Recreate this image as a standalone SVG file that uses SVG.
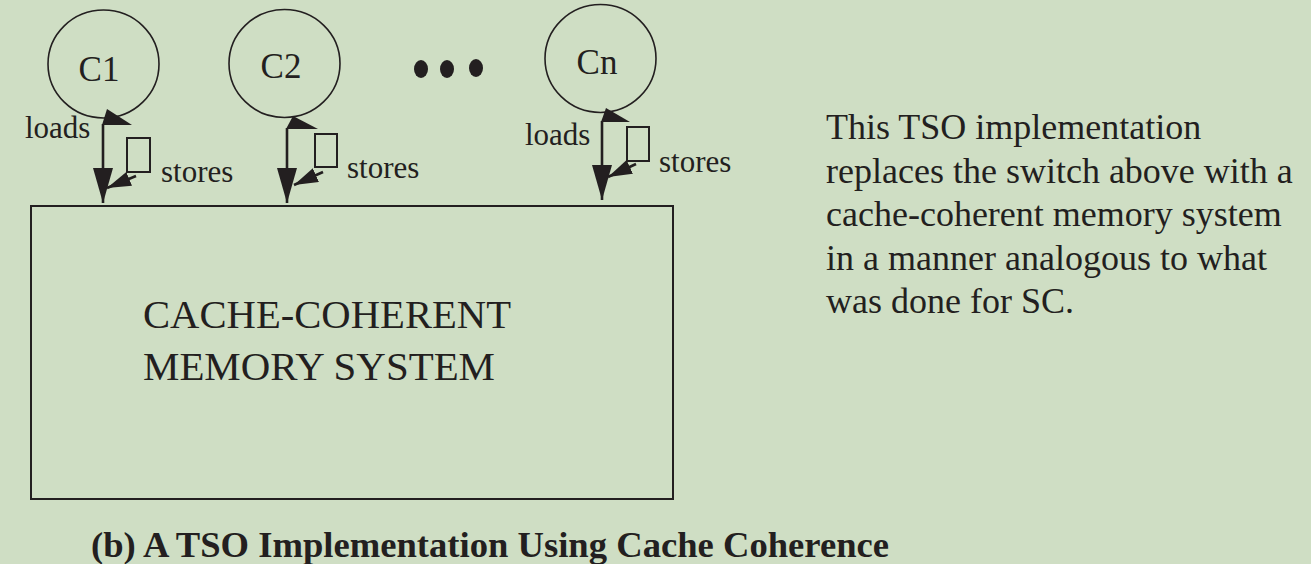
<svg xmlns="http://www.w3.org/2000/svg" width="1311" height="564" viewBox="0 0 1311 564">
<defs>
<style>
.bg{fill:#cfdec4}
.core{fill:none;stroke:#231f20;stroke-width:1.6}
.t{font-family:"Liberation Serif","Times New Roman",serif;fill:#231f20}
.ln{stroke:#231f20;stroke-width:2.6;fill:none}
.hd{fill:#231f20}
.buf{fill:none;stroke:#231f20;stroke-width:2}
.mem{fill:none;stroke:#231f20;stroke-width:2}
</style>
<marker id="bigHead" markerUnits="userSpaceOnUse" markerWidth="36" markerHeight="22" refX="35" refY="10" orient="auto" viewBox="0 0 36 22">
<path d="M0,0 L35,10 L0,20 Z" class="hd"/>
</marker>
<marker id="smallHead" markerUnits="userSpaceOnUse" markerWidth="26" markerHeight="16" refX="24" refY="7.5" orient="auto" viewBox="0 0 26 16">
<path d="M0,0 L24,7.5 L0,15 Z" class="hd"/>
</marker>
</defs>
<rect class="bg" x="0" y="0" width="1311" height="564"/>

<g id="core-c1">
<ellipse class="core" cx="103.5" cy="64" rx="55.5" ry="54"/>
<text class="t" x="99" y="81" font-size="35" text-anchor="middle">C1</text>
<rect class="buf" x="127" y="138" width="23" height="34"/>
</g>
<g id="core-c2">
<ellipse class="core" cx="284.5" cy="63.5" rx="55.5" ry="54"/>
<text class="t" x="281" y="78" font-size="35" text-anchor="middle">C2</text>
<rect class="buf" x="315" y="134" width="22" height="33"/>
</g>
<g id="ellipsis">
<ellipse class="hd" cx="421" cy="69" rx="7" ry="9"/>
<ellipse class="hd" cx="447" cy="69" rx="7" ry="9"/>
<ellipse class="hd" cx="476" cy="68" rx="7" ry="9"/>
</g>
<g id="core-cn">
<ellipse class="core" cx="600.5" cy="58.5" rx="55.5" ry="54"/>
<text class="t" x="597" y="74" font-size="35" text-anchor="middle">Cn</text>
<rect class="buf" x="627" y="127" width="22" height="34"/>
</g>

<g id="memory">
<rect class="mem" x="31" y="206" width="642" height="293"/>
<text class="t" x="143" y="328" font-size="40" textLength="368" lengthAdjust="spacingAndGlyphs">CACHE-COHERENT</text>
<text class="t" x="143" y="380" font-size="40" textLength="352" lengthAdjust="spacingAndGlyphs">MEMORY SYSTEM</text>
</g>

<g id="connectors">
<polygon class="hd" points="107,109 102,125 132,125"/>
<line class="ln" x1="103" y1="124" x2="103" y2="203" marker-end="url(#bigHead)"/>
<line class="ln" x1="136" y1="176" x2="107" y2="188" marker-end="url(#smallHead)"/>
<text class="t" x="25" y="138" font-size="31">loads</text>
<text class="t" x="161" y="182" font-size="31">stores</text>

<polygon class="hd" points="293,116 286,129 318,129"/>
<line class="ln" x1="287" y1="128" x2="287" y2="203" marker-end="url(#bigHead)"/>
<line class="ln" x1="323" y1="172" x2="294" y2="185" marker-end="url(#smallHead)"/>
<text class="t" x="347" y="178" font-size="31">stores</text>

<polygon class="hd" points="606,108 601,122 630,122"/>
<line class="ln" x1="602" y1="121" x2="602" y2="200" marker-end="url(#bigHead)"/>
<line class="ln" x1="636" y1="164" x2="608" y2="177" marker-end="url(#smallHead)"/>
<text class="t" x="525" y="145" font-size="31">loads</text>
<text class="t" x="659" y="172" font-size="31">stores</text>
</g>

<g id="description">
<text class="t" x="826" y="139" font-size="36">This TSO implementation</text>
<text class="t" x="826" y="182.5" font-size="36">replaces the switch above with a</text>
<text class="t" x="826" y="226" font-size="36">cache-coherent memory system</text>
<text class="t" x="826" y="269.5" font-size="36">in a manner analogous to what</text>
<text class="t" x="826" y="313" font-size="36">was done for SC.</text>
</g>

<g id="caption">
<text class="t" x="91" y="557" font-size="35" font-weight="bold" textLength="798" lengthAdjust="spacingAndGlyphs">(b) A TSO Implementation Using Cache Coherence</text>
</g>
</svg>
